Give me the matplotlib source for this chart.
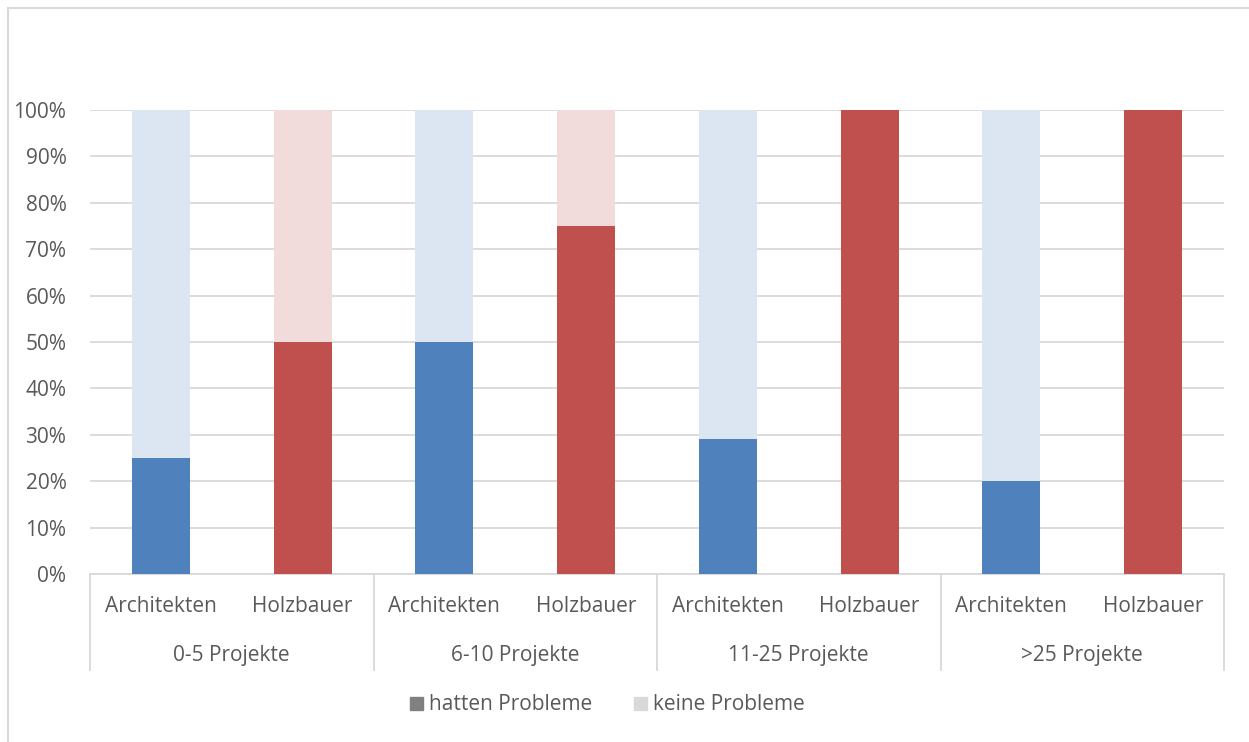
import matplotlib.pyplot as plt
from matplotlib.patches import Rectangle
import matplotlib.patches as mpatches

# Data
groups     = ['0-5 Projekte', '6-10 Projekte', '11-25 Projekte', '>25 Projekte']
subgroups  = ['Architekten', 'Holzbauer']
problems   = [[25, 50], [50, 75], [29, 100], [20, 100]]   # % hatten Probleme
legend_labs = ['hatten Probleme', 'keine Probleme']

dark  = {'Architekten': '#4F81BD', 'Holzbauer': '#C0504D'}
light = {'Architekten': '#DCE6F2', 'Holzbauer': '#F2DCDB'}
txt   = '#595959'
grid  = '#D9D9D9'
fs    = 15

plt.rcParams['font.family'] = ['Open Sans', 'DejaVu Sans']

W, H = 1249, 742
fig = plt.figure(figsize=(W/100, H/100), dpi=100)
fig.patch.set_facecolor('white')

x0, x1, y0, y1 = 90, 1224, 574, 110
ax = fig.add_axes([x0/W, 1-y0/H, (x1-x0)/W, (y0-y1)/H])

n = len(groups)*len(subgroups)
bw = 0.41
for gi, vals in enumerate(problems):
    for si, sub in enumerate(subgroups):
        x = gi*2 + si
        v = vals[si]
        ax.bar(x, v, width=bw, color=dark[sub], zorder=3)
        ax.bar(x, 100-v, bottom=v, width=bw, color=light[sub], zorder=3)

ax.set_xlim(-0.5, n-0.5)
ax.set_ylim(0, 100)
ax.set_yticks(range(0, 101, 10))
ax.set_yticklabels([f'{t}%' for t in range(0, 101, 10)], fontsize=fs, color=txt)
ax.yaxis.grid(True, color=grid, lw=1.3, zorder=0)
ax.tick_params(axis='y', length=0, pad=17)
ax.set_xticks([])
for sp in ['top', 'right', 'left']:
    ax.spines[sp].set_visible(False)
ax.spines['bottom'].set_color(grid)
ax.spines['bottom'].set_linewidth(1.3)

# two-level category axis
tr = ax.get_xaxis_transform()
for gi, g in enumerate(groups):
    for si, sub in enumerate(subgroups):
        ax.text(gi*2+si, -(606-574)/(y0-y1), sub, transform=tr, ha='center',
                va='center', fontsize=fs, color=txt, clip_on=False)
    ax.text(gi*2+0.5, -(655-574)/(y0-y1), g, transform=tr, ha='center',
            va='center', fontsize=fs, color=txt, clip_on=False)
sep_bottom = -(670-574)/(y0-y1)
for k in range(len(groups)+1):
    ax.plot([k*2-0.5]*2, [0, sep_bottom], transform=tr, color=grid,
            lw=1.3, clip_on=False)

# legend
handles = [mpatches.Patch(color='#808080', label=legend_labs[0]),
           mpatches.Patch(color='#D9D9D9', label=legend_labs[1])]
leg = fig.legend(handles=handles, loc='center',
                 bbox_to_anchor=(0.5 - 17/W, 1-705/H),
                 ncol=2, frameon=False, fontsize=fs, handlelength=0.6,
                 handleheight=0.6, handletextpad=0.3, columnspacing=2.0)
for t in leg.get_texts():
    t.set_color(txt)

# outer chart frame
fig.add_artist(Rectangle((8/W, -0.05), (W-8)/W - 8/W + 0.01, 1-8/H + 0.05,
                         transform=fig.transFigure, fill=False,
                         edgecolor='#D9D9D9', lw=1.5))

fig.savefig('out.png', dpi=100, facecolor='white')
